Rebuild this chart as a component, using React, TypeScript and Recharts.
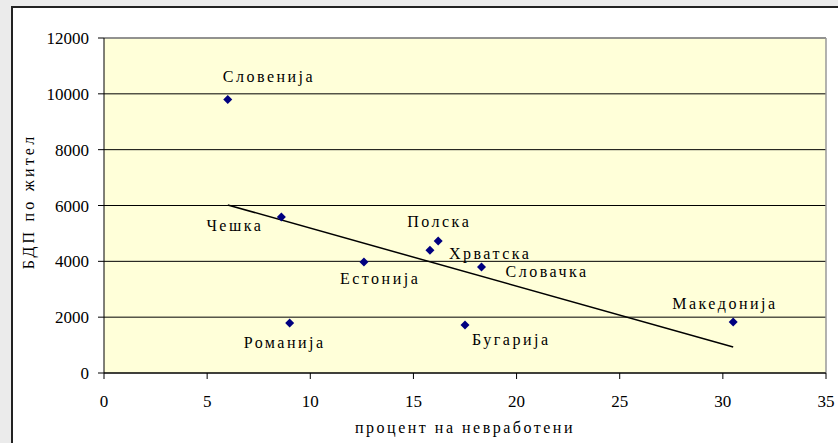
import {
  ScatterChart,
  Scatter,
  XAxis,
  YAxis,
  CartesianGrid,
  ReferenceLine,
} from 'recharts';

// values
const countries = ['Словенија', 'Чешка', 'Романија', 'Естонија', 'Хрватска', 'Полска', 'Словачка', 'Бугарија', 'Македонија'];
const unemployment = [6.0, 8.6, 9.0, 12.6, 15.8, 16.2, 18.3, 17.5, 30.5];
const gdpPerCapita = [9800, 5590, 1790, 3980, 4400, 4730, 3800, 1720, 1830];

const trendX = [6.0, 30.5];
const trendY = [6020, 930];

const xTicks = [0, 5, 10, 15, 20, 25, 30, 35];
const yTicks = [0, 2000, 4000, 6000, 8000, 10000, 12000];

const points = countries.map((name, i) => ({ name, x: unemployment[i], y: gdpPerCapita[i] }));
const trend = trendX.map((x, i) => ({ x, y: trendY[i] }));

// where each point's label sits, relative to the point (left edge, vertical centre)
const labelOffset: Record<string, [number, number]> = {
  'Словенија': [-5, -23],
  'Чешка': [-75, 9],
  'Романија': [-46, 19],
  'Естонија': [-24, 17],
  'Хрватска': [19, 3],
  'Полска': [-31, -19],
  'Словачка': [24, 5],
  'Бугарија': [7, 15],
  'Македонија': [-61, -18],
};

const FONT = 'Liberation Serif, Times New Roman, serif';
const serif = { fontFamily: FONT };

const PointShape = (props: any) => {
  const { cx, cy, payload } = props;
  if (cx == null || cy == null) return <g />;
  const r = 4.5;
  const [dx, dy] = labelOffset[payload.name] || [0, 0];
  return (
    <g>
      <polygon
        points={`${cx},${cy - r} ${cx + r},${cy} ${cx},${cy + r} ${cx - r},${cy}`}
        fill="#000080"
      />
      <text
        x={cx + dx}
        y={cy + dy}
        dominantBaseline="central"
        textAnchor="start"
        fontSize={16}
        letterSpacing={2.5}
        fill="#000"
        style={serif}
      >
        {payload.name}
      </text>
    </g>
  );
};

export default function App() {
  return (
    <div
      style={{
        position: 'fixed',
        left: 0,
        top: 0,
        width: 838,
        height: 443,
        background: '#ebebeb',
        overflow: 'hidden',
        fontFamily: FONT,
      }}
    >
      <div
        style={{
          position: 'absolute',
          left: 11,
          top: 6,
          width: 900,
          height: 500,
          background: '#fff',
          borderLeft: '2px solid #222',
          borderTop: '2px solid #222',
        }}
      />
      <div style={{ position: 'absolute', left: 0, top: 0 }}>
        <ScatterChart
          width={838}
          height={443}
          margin={{ top: 38, right: 12, left: 0, bottom: 0 }}
          style={serif}
        >
          <CartesianGrid vertical={false} stroke="#000" fill="#FFFFD9" fillOpacity={1} />
          <XAxis
            type="number"
            dataKey="x"
            domain={[0, 35]}
            ticks={xTicks}
            interval={0}
            height={70}
            axisLine={{ stroke: '#000' }}
            tickLine={{ stroke: '#000' }}
            tickSize={6}
            tickMargin={16}
            tick={{ fill: '#000', fontSize: 17, style: serif }}
            label={{
              value: 'процент на невработени',
              position: 'insideBottom',
              offset: 10,
              fill: '#000',
              fontSize: 16,
              letterSpacing: 2.5,
              style: serif,
            }}
          />
          <YAxis
            type="number"
            dataKey="y"
            domain={[0, 12000]}
            ticks={yTicks}
            interval={0}
            width={104}
            axisLine={{ stroke: '#000' }}
            tickLine={{ stroke: '#000' }}
            tickSize={6}
            tickMargin={9}
            tick={{ fill: '#000', fontSize: 17, style: serif }}
            label={{
              value: 'БДП по жител',
              angle: -90,
              position: 'insideLeft',
              offset: 28,
              dy: -4,
              fill: '#000',
              fontSize: 16,
              letterSpacing: 3.2,
              style: { ...serif, textAnchor: 'middle' },
            }}
          />
          <ReferenceLine y={12000} stroke="#999" strokeWidth={1.5} />
          <ReferenceLine x={35} stroke="#999" strokeWidth={1.5} />
          <Scatter
            data={trend}
            line={{ stroke: '#000', strokeWidth: 1.5 }}
            shape={() => <g />}
            isAnimationActive={false}
          />
          <Scatter data={points} shape={PointShape} isAnimationActive={false} />
        </ScatterChart>
      </div>
    </div>
  );
}
